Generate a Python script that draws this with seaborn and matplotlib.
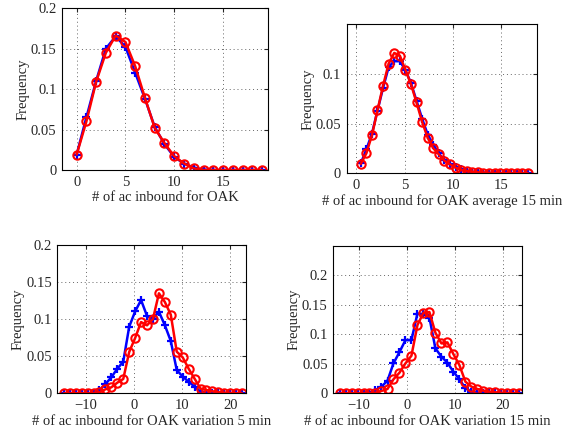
import numpy as np
import seaborn as sns
import matplotlib.pyplot as plt
from matplotlib.ticker import FuncFormatter

# panel 1: count of aircraft
x_count = [0, 1, 2, 3, 4, 5, 6, 7, 8, 9, 10, 11, 12, 13, 14, 15, 16, 17, 18, 19]
blue_count = [0.019, 0.065, 0.110, 0.150, 0.165, 0.152, 0.120, 0.088, 0.053, 0.032,
              0.016, 0.008, 0.003, 0.0005, 0, 0, 0, 0, 0, 0]
red_count = [0.019, 0.060, 0.109, 0.145, 0.166, 0.158, 0.128, 0.089, 0.052, 0.033,
             0.017, 0.008, 0.002, 0, 0, 0, 0, 0, 0, 0]

# panel 2: average 15 min
x_avg = [0.46, 1.04, 1.62, 2.19, 2.77, 3.35, 3.93, 4.51, 5.08, 5.66, 6.24,
         6.82, 7.40, 7.97, 8.55, 9.13, 9.71, 10.29, 10.86, 11.44, 12.02, 12.60,
         13.18, 13.75, 14.33, 14.91, 15.49, 16.07, 16.64, 17.22, 17.80]
blue_avg = [0.010, 0.024, 0.040, 0.063, 0.086, 0.107, 0.113, 0.113, 0.104, 0.091,
            0.073, 0.055, 0.039, 0.029, 0.020, 0.013, 0.009, 0.006, 0.004, 0.0025,
            0.0015, 0.001, 0.0007, 0.0004, 0.0002, 0, 0, 0, 0, 0, 0]
red_avg = [0.0094, 0.0202, 0.0384, 0.0633, 0.0882, 0.1104, 0.1212, 0.1185, 0.1043,
           0.0899, 0.0713, 0.0518, 0.0357, 0.0253, 0.0192, 0.0127, 0.0091, 0.0057,
           0.0033, 0.0023, 0.0016, 0.001, 0.0007, 0.0005, 0.0003, 0.0002, 0, 0, 0, 0, 0]

# panel 3: variation 5 min
x_var5 = [-14.65, -13.41, -12.17, -10.94, -9.70, -8.46, -7.22, -5.98, -4.75, -3.51,
          -2.27, -1.03, 0.21, 1.44, 2.68, 3.92, 5.16, 6.40, 7.63, 8.87, 10.11, 11.35,
          12.59, 13.82, 15.06, 16.30, 17.54, 18.78, 20.01, 21.25, 22.49]
blue_var5 = [0, 0, 0, 0, 0, 0, 0.004, 0.0125, 0.0216, 0.0332, 0.0426, 0.0898, 0.1105,
             0.1258, 0.1043, 0.1007, 0.110, 0.0917, 0.0705, 0.0314, 0.0225, 0.0157,
             0.009, 0.0022, 0.001, 0, 0, 0, 0, 0, 0]
red_var5 = [0, 0, 0, 0, 0, 0, 0.0013, 0.0054, 0.0081, 0.0143, 0.0193, 0.0557, 0.0746,
            0.0961, 0.0917, 0.1002, 0.1349, 0.1231, 0.106, 0.0561, 0.0485, 0.0332,
            0.0197, 0.0063, 0.0045, 0.0027, 0.0018, 0.0009, 0.0005, 0, 0]

# panel 4: variation 15 min
x_var15 = [-14.0, -12.75, -11.51, -10.26, -9.01, -7.77, -6.52, -5.27, -4.02, -2.78,
           -1.53, -0.28, 0.96, 2.21, 3.46, 4.70, 5.95, 7.20, 8.45, 9.69, 10.94, 12.19,
           13.43, 14.68, 15.93, 17.18, 18.42, 19.67, 20.92, 22.16, 23.41]
blue_var15 = [0, 0, 0, 0, 0, 0.001, 0.0056, 0.0113, 0.0214, 0.0507, 0.0698, 0.0901,
              0.0901, 0.135, 0.134, 0.128, 0.076, 0.062, 0.0518, 0.0366, 0.0237,
              0.0085, 0.0028, 0.001, 0, 0, 0, 0, 0, 0, 0]
red_var15 = [0, 0, 0, 0, 0, 0, 0.001, 0.004, 0.0073, 0.0237, 0.0349, 0.0507, 0.0636,
             0.1155, 0.1364, 0.1375, 0.1025, 0.0845, 0.0862, 0.0664, 0.0478, 0.0197,
             0.0113, 0.0073, 0.0045, 0.0028, 0.0017, 0.001, 0.0005, 0, 0]

sns.set_style("white")
plt.rcParams['font.family'] = ['Liberation Serif', 'DejaVu Serif']
plt.rcParams['font.size'] = 10.5
plt.rcParams['axes.unicode_minus'] = True

fig = plt.figure(figsize=(5.63, 4.29), dpi=100)

panels = [
    ([0.1101, 0.6037, 0.3659, 0.3776], x_count, blue_count, red_count,
     "# of ac inbound for OAK", (-1.5, 19.6), [0, 5, 10, 15], (0, 0.2),
     [0, 0.05, 0.1, 0.15, 0.2]),
    ([0.6158, 0.5960, 0.3375, 0.3473], x_avg, blue_avg, red_avg,
     "# of ac inbound for OAK average 15 min", (-1.0, 18.7), [0, 5, 10, 15],
     (0, 0.15), [0, 0.05, 0.1]),
    ([0.1018, 0.0832, 0.3352, 0.3457], x_var5, blue_var5, red_var5,
     "# of ac inbound for OAK variation 5 min", (-16.0, 23.3), [-10, 0, 10, 20],
     (0, 0.2), [0, 0.05, 0.1, 0.15, 0.2]),
    ([0.5920, 0.0832, 0.3346, 0.3443], x_var15, blue_var15, red_var15,
     "# of ac inbound for OAK variation 15 min", (-15.3, 23.9), [-10, 0, 10, 20],
     (0, 0.25), [0, 0.05, 0.1, 0.15, 0.2]),
]

fmt = FuncFormatter(lambda v, p: "%g" % v)

for rect, xs, yb, yr, xlabel, xlim, xticks, ylim, yticks in panels:
    ax = fig.add_axes(rect)
    sns.lineplot(x=xs, y=yb, ax=ax, color=(0, 0, 1), linewidth=1.8, marker='+',
                 markersize=6, markeredgewidth=1.6, markeredgecolor=(0, 0, 1))
    sns.lineplot(x=xs, y=yr, ax=ax, color=(1, 0, 0), linewidth=1.8, marker='o',
                 markersize=6, markerfacecolor='none', markeredgewidth=1.5,
                 markeredgecolor=(1, 0, 0))
    ax.set_xlim(*xlim)
    ax.set_ylim(*ylim)
    ax.set_xticks(xticks)
    ax.set_yticks(yticks)
    ax.yaxis.set_major_formatter(fmt)
    ax.grid(True, linestyle=(0, (1, 3)), color='#666666', linewidth=0.7)
    ax.tick_params(direction='in', length=3, top=True, right=True, pad=4)
    for s in ax.spines.values():
        s.set_color('black')
        s.set_linewidth(0.8)
    ax.set_xlabel(xlabel, labelpad=2)
    ax.set_ylabel("Frequency", labelpad=1)

fig.savefig("out.png", dpi=100)
